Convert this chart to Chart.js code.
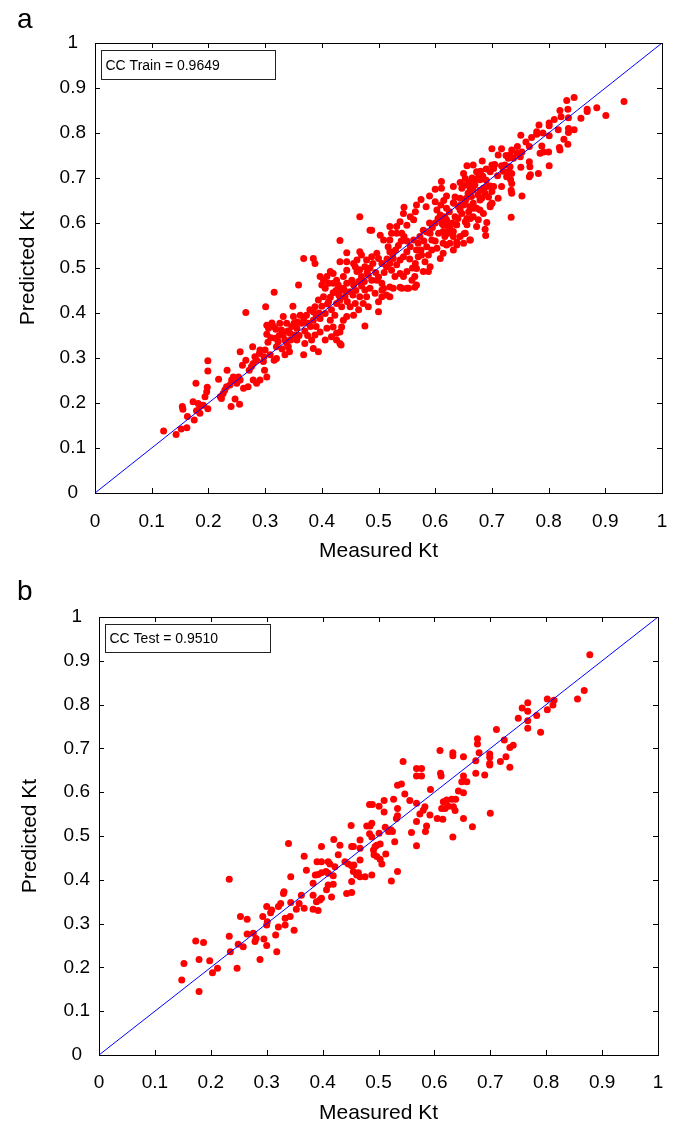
<!DOCTYPE html>
<html>
<head>
<meta charset="utf-8">
<script src="https://cdn.jsdelivr.net/npm/chart.js@4.4.1/dist/chart.umd.min.js"></script>
<style>
  html, body { margin: 0; padding: 0; background: #fff; }
  #wrap { position: relative; width: 680px; height: 1128px; }
  canvas { position: absolute; left: 0; }
</style>
</head>
<body>
<div id="wrap">
  <canvas id="cTrain" width="680" height="572" style="top:0px"></canvas>
  <canvas id="cTest" width="680" height="556" style="top:572px"></canvas>
</div>
<script>
// Tick positions and their labels, shared by both axes of both panels
const axisTicks = [0, 0.1, 0.2, 0.3, 0.4, 0.5, 0.6, 0.7, 0.8, 0.9, 1];
const tickLabels = ['0', '0.1', '0.2', '0.3', '0.4', '0.5', '0.6', '0.7', '0.8', '0.9', '1'];

// Training set: [measured Kt, predicted Kt]
const trainPoints = [
  [0.121,0.138],[0.143,0.130],[0.152,0.142],[0.162,0.145],[0.163,0.170],[0.175,0.162],[0.154,0.192],[0.155,0.186],
  [0.173,0.203],[0.179,0.183],[0.185,0.177],[0.182,0.199],[0.185,0.192],[0.191,0.195],[0.178,0.244],[0.197,0.225],
  [0.198,0.235],[0.194,0.214],[0.199,0.187],[0.199,0.271],[0.199,0.294],[0.218,0.253],[0.221,0.214],[0.223,0.210],
  [0.226,0.221],[0.229,0.229],[0.232,0.236],[0.233,0.273],[0.238,0.240],[0.241,0.251],[0.244,0.258],[0.240,0.192],
  [0.247,0.209],[0.255,0.197],[0.250,0.244],[0.256,0.251],[0.253,0.258],[0.256,0.314],[0.260,0.284],[0.266,0.295],
  [0.266,0.401],[0.262,0.233],[0.270,0.236],[0.272,0.273],[0.276,0.281],[0.279,0.288],[0.278,0.325],[0.282,0.303],
  [0.285,0.295],[0.279,0.251],[0.285,0.244],[0.291,0.251],[0.291,0.318],[0.290,0.310],[0.300,0.318],[0.299,0.273],
  [0.303,0.258],[0.297,0.292],[0.298,0.303],[0.301,0.414],[0.303,0.353],[0.306,0.366],[0.303,0.373],[0.316,0.446],
  [0.312,0.378],[0.315,0.370],[0.319,0.364],[0.318,0.344],[0.323,0.336],[0.320,0.325],[0.309,0.307],[0.316,0.295],
  [0.320,0.299],[0.329,0.362],[0.332,0.351],[0.335,0.340],[0.332,0.392],[0.338,0.333],[0.341,0.325],[0.335,0.307],
  [0.343,0.314],[0.349,0.415],[0.350,0.392],[0.351,0.377],[0.356,0.366],[0.356,0.340],[0.353,0.351],[0.359,0.462],
  [0.344,0.355],[0.347,0.370],[0.338,0.377],[0.326,0.377],
  [0.368,0.521],[0.385,0.521],[0.388,0.510],[0.432,0.561],[0.444,0.534],[0.432,0.514],[0.444,0.514],[0.462,0.518],
  [0.467,0.536],[0.470,0.529],[0.456,0.510],[0.459,0.503],[0.462,0.492],[0.485,0.584],[0.467,0.614],[0.444,0.495],
  [0.438,0.481],[0.426,0.473],[0.420,0.488],[0.415,0.492],[0.409,0.481],[0.403,0.473],[0.397,0.481],[0.400,0.462],
  [0.406,0.455],[0.412,0.466],[0.420,0.466],[0.429,0.462],[0.432,0.451],[0.438,0.455],[0.444,0.466],[0.453,0.473],
  [0.456,0.462],[0.450,0.447],[0.441,0.436],[0.432,0.429],[0.426,0.421],[0.435,0.414],[0.450,0.414],[0.459,0.421],
  [0.467,0.436],[0.476,0.451],[0.479,0.436],[0.473,0.421],[0.482,0.414],[0.465,0.407],[0.456,0.395],[0.444,0.392],
  [0.438,0.384],[0.423,0.395],[0.417,0.407],[0.412,0.425],[0.403,0.436],[0.394,0.429],[0.388,0.414],[0.385,0.403],
  [0.379,0.407],[0.373,0.395],[0.368,0.388],[0.365,0.377],[0.376,0.377],[0.385,0.384],[0.397,0.388],[0.406,0.399],
  [0.415,0.384],[0.420,0.369],[0.409,0.366],[0.397,0.358],[0.388,0.351],[0.382,0.340],[0.370,0.332],[0.368,0.307],
  [0.385,0.321],[0.394,0.314],[0.406,0.340],[0.417,0.347],[0.426,0.355],[0.432,0.332],[0.426,0.340],[0.435,0.369],
  [0.476,0.371],[0.500,0.403],[0.520,0.436],[0.526,0.455],[0.538,0.457],[0.550,0.455],[0.500,0.425],[0.494,0.444],
  [0.485,0.455],[0.506,0.451],[0.432,0.358],[0.434,0.329],
  [0.603,0.629],[0.609,0.618],[0.614,0.610],[0.620,0.607],[0.612,0.599],[0.620,0.596],[0.626,0.588],[0.614,0.581],
  [0.606,0.577],[0.623,0.577],[0.632,0.581],[0.638,0.596],[0.635,0.614],[0.644,0.629],[0.641,0.636],[0.659,0.625],
  [0.667,0.633],[0.662,0.610],[0.656,0.596],[0.653,0.577],[0.662,0.562],[0.650,0.555],[0.644,0.570],[0.638,0.558],
  [0.620,0.551],[0.632,0.540],[0.614,0.533],[0.609,0.521],[0.603,0.544],[0.594,0.562],[0.591,0.577],[0.585,0.547],
  [0.594,0.540],[0.588,0.529],[0.582,0.514],[0.591,0.503],[0.588,0.492],[0.579,0.492],[0.567,0.499],[0.576,0.529],
  [0.567,0.540],[0.570,0.555],[0.562,0.562],[0.573,0.570],[0.579,0.584],[0.556,0.547],[0.550,0.536],[0.544,0.525],
  [0.538,0.518],[0.532,0.507],[0.526,0.521],[0.520,0.536],[0.523,0.495],[0.514,0.503],[0.506,0.510],[0.500,0.521],
  [0.497,0.533],[0.488,0.525],[0.479,0.518],[0.476,0.503],[0.467,0.496],[0.470,0.481],[0.465,0.470],[0.482,0.484],
  [0.488,0.473],[0.497,0.473],[0.506,0.466],[0.509,0.455],[0.514,0.440],[0.506,0.436],[0.520,0.458],[0.529,0.481],
  [0.538,0.488],[0.544,0.481],[0.550,0.492],[0.559,0.473],[0.564,0.481],[0.567,0.462],[0.541,0.455],[0.553,0.455],
  [0.564,0.457],
  [0.567,0.640],[0.584,0.636],[0.600,0.647],[0.632,0.645],[0.653,0.647],[0.565,0.625],[0.556,0.614],[0.562,0.607],
  [0.544,0.621],[0.550,0.595],[0.538,0.603],[0.532,0.592],[0.532,0.577],[0.541,0.577],[0.520,0.592],[0.523,0.577],
  [0.503,0.573],[0.509,0.562],[0.520,0.562],[0.517,0.547],[0.488,0.584],[0.676,0.607],[0.673,0.592],
  [0.590,0.660],[0.600,0.675],[0.575,0.652],[0.545,0.635],
  [0.845,0.879],[0.832,0.872],[0.933,0.870],[0.885,0.856],[0.868,0.853],[0.868,0.848],[0.820,0.850],[0.834,0.853],
  [0.901,0.839],[0.857,0.833],[0.822,0.836],[0.835,0.834],[0.783,0.818],[0.801,0.822],[0.801,0.816],[0.779,0.803],
  [0.779,0.797],[0.817,0.807],[0.835,0.810],[0.835,0.801],[0.845,0.807],[0.751,0.795],[0.801,0.794],[0.827,0.786],
  [0.834,0.775],[0.819,0.768],[0.820,0.762],[0.788,0.771],[0.791,0.758],[0.785,0.755],[0.800,0.758],[0.766,0.770],
  [0.700,0.765],[0.717,0.765],[0.711,0.751],[0.735,0.762],[0.732,0.751],[0.744,0.755],[0.753,0.758],[0.750,0.747],
  [0.738,0.744],[0.729,0.744],[0.683,0.738],[0.700,0.729],[0.703,0.721],[0.697,0.714],[0.667,0.729],[0.656,0.727],
  [0.717,0.727],[0.723,0.729],[0.732,0.725],[0.729,0.714],[0.735,0.710],[0.726,0.703],[0.733,0.696],[0.735,0.688],
  [0.751,0.724],[0.766,0.736],[0.767,0.725],[0.768,0.707],[0.766,0.703],[0.782,0.710],[0.801,0.727],[0.684,0.704],
  [0.673,0.714],[0.670,0.697],[0.676,0.701],[0.679,0.696],[0.650,0.710],[0.653,0.699],[0.651,0.684],[0.647,0.677],
  [0.644,0.690],[0.661,0.679],[0.667,0.673],[0.676,0.662],[0.679,0.673],[0.685,0.677],[0.691,0.681],[0.697,0.682],
  [0.700,0.670],[0.694,0.658],[0.688,0.666],[0.682,0.655],[0.703,0.681],[0.700,0.644],[0.697,0.636],[0.717,0.681],
  [0.734,0.673],[0.735,0.666],[0.753,0.660],
  [0.611,0.692],[0.611,0.677],[0.632,0.681],[0.635,0.658],[0.633,0.644],[0.620,0.633],[0.617,0.614],[0.614,0.596],
  [0.623,0.584],[0.617,0.570],[0.614,0.555],[0.632,0.570],[0.637,0.596],[0.651,0.576],[0.661,0.562],[0.653,0.603],
  [0.647,0.621],[0.656,0.610],[0.661,0.636],[0.667,0.644],[0.673,0.633],[0.679,0.629],[0.667,0.614],[0.685,0.621],
  [0.697,0.640],[0.700,0.644],[0.691,0.601],[0.688,0.586],[0.689,0.572],[0.734,0.613],[0.711,0.655],[0.679,0.651],
  [0.658,0.666],[0.664,0.659],[0.644,0.655],[0.650,0.640],[0.626,0.555],[0.638,0.551],
  // dense core along the diagonal
  [0.305,0.335],[0.310,0.345],[0.325,0.350],[0.330,0.320],[0.340,0.360],[0.345,0.340],[0.360,0.350],[0.357,0.380],
  [0.362,0.395],[0.370,0.360],[0.375,0.350],[0.380,0.370],[0.390,0.370],[0.390,0.395],[0.395,0.400],[0.400,0.415],
  [0.410,0.420],[0.415,0.435],[0.420,0.445],[0.425,0.450],[0.430,0.440],[0.440,0.450],[0.445,0.425],[0.455,0.440],
  [0.460,0.450],[0.470,0.460],[0.475,0.470],[0.480,0.490],[0.485,0.500],[0.490,0.510],[0.495,0.490],[0.500,0.480],
  [0.510,0.490],[0.515,0.520],[0.520,0.510],[0.525,0.530],[0.530,0.540],[0.535,0.550],[0.540,0.560],[0.545,0.570],
  [0.550,0.560],[0.555,0.520],[0.560,0.500],[0.565,0.510],[0.570,0.525],[0.575,0.540],[0.580,0.560],[0.585,0.580],
  [0.590,0.600],[0.595,0.590],[0.600,0.600],[0.600,0.560],[0.605,0.610],[0.610,0.640],[0.615,0.650],[0.620,0.660],
  [0.625,0.625],[0.630,0.600],[0.640,0.610],[0.645,0.640],[0.655,0.655],[0.660,0.690],[0.665,0.700],[0.670,0.685],
  [0.680,0.715],[0.690,0.720],[0.690,0.695],[0.705,0.730],[0.710,0.705],[0.720,0.715],[0.725,0.750],[0.745,0.770],
  [0.760,0.780],[0.770,0.790],[0.790,0.800],[0.810,0.830]
];

// Test set: [measured Kt, predicted Kt]
const testPoints = [
  [0.148,0.171],[0.152,0.209],[0.179,0.145],[0.179,0.218],[0.173,0.260],[0.187,0.257],[0.198,0.215],[0.203,0.188],
  [0.212,0.198],[0.233,0.401],[0.233,0.271],[0.235,0.236],[0.247,0.198],[0.249,0.253],[0.258,0.247],[0.253,0.316],
  [0.265,0.310],[0.265,0.276],[0.276,0.278],[0.281,0.266],[0.279,0.259],[0.288,0.218],[0.295,0.265],[0.300,0.250],
  [0.293,0.316],[0.300,0.339],[0.301,0.304],[0.300,0.297],[0.309,0.331],[0.307,0.325],[0.316,0.274],[0.318,0.236],
  [0.321,0.292],[0.321,0.339],[0.325,0.346],[0.331,0.373],[0.330,0.369],[0.333,0.312],[0.333,0.297],[0.342,0.316],
  [0.343,0.348],[0.343,0.407],[0.349,0.285],[0.353,0.333],[0.358,0.346],[0.362,0.365],[0.367,0.335],[0.371,0.422],
  [0.383,0.392],[0.383,0.365],[0.383,0.333],[0.392,0.330],[0.389,0.350],[0.395,0.354],[0.387,0.411],[0.392,0.412],
  [0.390,0.441],[0.367,0.454],[0.339,0.483],
  [0.610,0.695],[0.633,0.690],[0.633,0.683],[0.544,0.670],[0.568,0.654],[0.577,0.654],[0.568,0.637],[0.577,0.637],
  [0.611,0.643],[0.612,0.637],[0.643,0.603],[0.541,0.619],[0.534,0.616],[0.593,0.606],[0.547,0.596],[0.556,0.581],
  [0.568,0.575],[0.527,0.584],[0.510,0.581],[0.484,0.572],[0.489,0.572],[0.501,0.568],[0.510,0.555],[0.534,0.563],
  [0.534,0.546],[0.532,0.540],[0.583,0.567],[0.580,0.559],[0.574,0.550],[0.592,0.548],[0.568,0.533],[0.616,0.578],
  [0.622,0.582],[0.631,0.584],[0.638,0.584],[0.613,0.563],[0.619,0.563],[0.625,0.568],[0.634,0.567],[0.637,0.558],
  [0.605,0.540],[0.615,0.538],[0.652,0.540],[0.668,0.521],[0.700,0.552],[0.633,0.498],[0.586,0.523],[0.584,0.510],
  [0.559,0.508],[0.568,0.478],[0.529,0.487],[0.522,0.514],[0.525,0.510],[0.518,0.510],[0.512,0.520],[0.501,0.506],
  [0.485,0.523],[0.488,0.529],[0.479,0.523],[0.484,0.505],[0.488,0.498],[0.451,0.524],[0.503,0.482],[0.497,0.479],
  [0.494,0.476],[0.491,0.468],[0.492,0.457],[0.497,0.453],[0.503,0.447],[0.506,0.436],[0.513,0.459],[0.467,0.491],
  [0.467,0.472],[0.455,0.476],[0.452,0.476],[0.431,0.479],[0.420,0.492],[0.398,0.476],[0.428,0.457],[0.410,0.441],
  [0.413,0.436],[0.422,0.430],[0.440,0.441],[0.446,0.436],[0.452,0.432],[0.456,0.434],[0.467,0.445],[0.455,0.419],
  [0.461,0.411],[0.464,0.416],[0.467,0.407],[0.476,0.407],[0.488,0.411],[0.534,0.419],[0.523,0.397],[0.452,0.396],
  [0.410,0.415],[0.419,0.409],[0.398,0.416],[0.406,0.419],[0.410,0.388],[0.419,0.390],[0.407,0.377],[0.443,0.369],
  [0.452,0.371],[0.416,0.361],[0.398,0.358],[0.398,0.441],
  [0.878,0.914],[0.868,0.832],[0.856,0.813],[0.814,0.810],[0.812,0.799],[0.802,0.813],[0.802,0.788],[0.767,0.804],
  [0.767,0.785],[0.757,0.792],[0.783,0.775],[0.750,0.769],[0.767,0.763],[0.767,0.746],[0.790,0.737],[0.711,0.743],
  [0.725,0.719],[0.677,0.722],[0.677,0.710],[0.741,0.707],[0.735,0.702],[0.680,0.690],[0.652,0.681],[0.699,0.687],
  [0.699,0.680],[0.728,0.681],[0.674,0.672],[0.699,0.666],[0.699,0.662],[0.718,0.670],[0.735,0.657],[0.674,0.643],
  [0.690,0.639],[0.652,0.637],[0.649,0.624],[0.658,0.624],[0.652,0.599]
];

const FONT = "'Liberation Sans', Arial, Helvetica, sans-serif";

// Draws the plot frame, inward tick marks, the CC annotation box and the panel letter
const framePlugin = {
  id: 'frame',
  afterDraw(chart, args, o) {
    const { ctx, chartArea: a, scales: { x, y } } = chart;
    ctx.save();
    ctx.strokeStyle = '#000';
    ctx.lineWidth = 1;
    ctx.strokeRect(a.left + 0.5, a.top + 0.5, a.right - a.left, a.bottom - a.top);
    const tl = 5;
    ctx.beginPath();
    axisTicks.forEach(v => {
      const px = Math.round(x.getPixelForValue(v)) + 0.5;
      const py = Math.round(y.getPixelForValue(v)) + 0.5;
      ctx.moveTo(px, a.bottom); ctx.lineTo(px, a.bottom - tl);
      ctx.moveTo(px, a.top); ctx.lineTo(px, a.top + tl);
      ctx.moveTo(a.left, py); ctx.lineTo(a.left + tl, py);
      ctx.moveTo(a.right, py); ctx.lineTo(a.right - tl, py);
    });
    ctx.stroke();

    // annotation box
    const bx = a.left + 6.5, by = a.top + 7.5;
    ctx.fillStyle = '#fff';
    ctx.fillRect(bx, by, o.boxW, o.boxH);
    ctx.strokeStyle = '#222';
    ctx.strokeRect(bx, by, o.boxW, o.boxH);
    ctx.fillStyle = '#000';
    ctx.font = '14px ' + FONT;
    ctx.textBaseline = 'middle';
    ctx.textAlign = 'left';
    ctx.fillText(o.label, bx + 4, by + o.boxH / 2 + 1);

    // panel letter
    ctx.font = '28px ' + FONT;
    ctx.textBaseline = 'alphabetic';
    ctx.fillText(o.letter, 17, o.letterY);
    ctx.restore();
  }
};

function tickText(value) {
  const i = axisTicks.findIndex(t => Math.abs(t - value) < 1e-6);
  return i >= 0 ? tickLabels[i] : '';
}

function makePanel(canvasId, points, p) {
  const scatter = points.map(([mx, py]) => ({ x: mx, y: py }));
  const tickFont = { family: FONT, size: 19 };
  const titleFont = { family: FONT, size: 21 };
  const first = axisTicks[0], last = axisTicks[axisTicks.length - 1];
  return new Chart(document.getElementById(canvasId), {
    type: 'scatter',
    data: {
      datasets: [
        {
          type: 'line',
          data: [{ x: first, y: first }, { x: last, y: last }],
          borderColor: '#0000ff',
          borderWidth: 1,
          pointRadius: 0,
          fill: false,
          order: 0
        },
        {
          data: scatter,
          backgroundColor: '#ff0000',
          borderWidth: 0,
          pointRadius: 3.5,
          pointHoverRadius: 3.5,
          order: 1
        }
      ]
    },
    options: {
      responsive: false,
      animation: false,
      events: [],
      layout: { padding: { left: 0, top: p.top, right: p.right, bottom: 0 } },
      plugins: {
        legend: { display: false },
        tooltip: { enabled: false },
        frame: { label: p.label, letter: p.letter, letterY: p.letterY, boxW: p.boxW, boxH: p.boxH }
      },
      scales: {
        x: {
          type: 'linear', min: first, max: last,
          grid: { display: false, drawTicks: false },
          border: { display: false },
          ticks: { stepSize: 0.1, font: tickFont, color: '#000', padding: p.xTickPad, maxRotation: 0, callback: tickText },
          title: { display: true, text: 'Measured Kt', font: titleFont, color: '#000', padding: { top: 0, bottom: p.xTitlePad } },
          afterFit(s) { s.height = p.xAxisH; s.paddingLeft = 0; s.paddingRight = 0; }
        },
        y: {
          type: 'linear', min: first, max: last,
          grid: { display: false, drawTicks: false },
          border: { display: false },
          ticks: { stepSize: 0.1, font: tickFont, color: '#000', padding: p.yTickPad, crossAlign: 'center', callback: tickText },
          title: { display: true, text: 'Predicted Kt', font: titleFont, color: '#000', padding: { top: p.yTitlePad, bottom: 0 } },
          afterFit(s) { s.width = p.yAxisW; s.paddingTop = 0; s.paddingBottom = 0; }
        }
      }
    },
    plugins: [framePlugin]
  });
}

makePanel('cTrain', trainPoints, {
  top: 43, right: 18, yAxisW: 95, xAxisH: 79,
  xTickPad: 17, yTickPad: 9, xTitlePad: 8.4, yTitlePad: 15.4,
  label: 'CC Train = 0.9649', letter: 'a', letterY: 28, boxW: 174, boxH: 29
});

makePanel('cTest', testPoints, {
  top: 45, right: 22, yAxisW: 99, xAxisH: 73,
  xTickPad: 16, yTickPad: 9, xTitlePad: 2.4, yTitlePad: 17.4,
  label: 'CC Test = 0.9510', letter: 'b', letterY: 28, boxW: 165, boxH: 28
});
</script>
</body>
</html>
